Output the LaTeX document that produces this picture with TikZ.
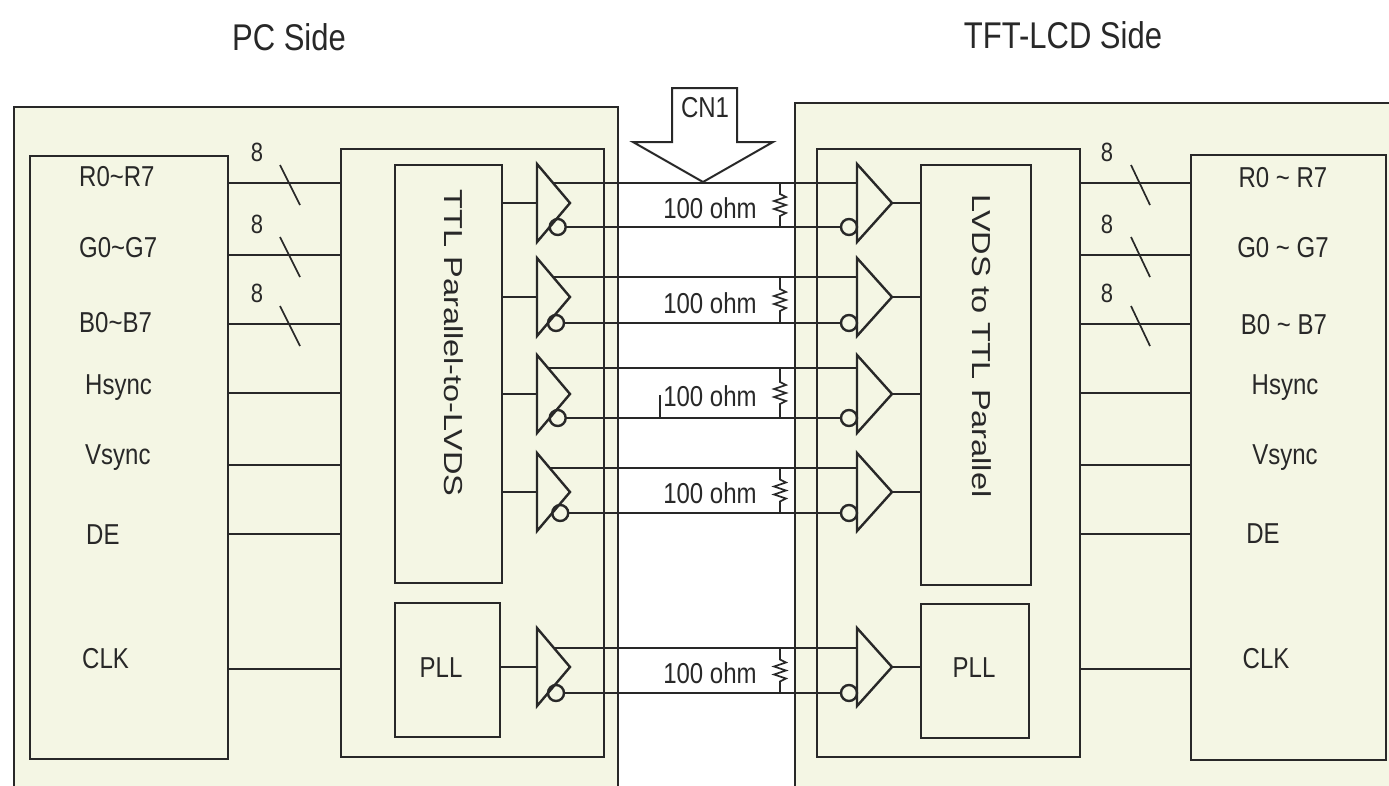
\documentclass[tikz,border=0pt]{standalone}
\usepackage{fontspec}
\usepackage{graphicx}
\setmainfont{Liberation Sans}
\usetikzlibrary{calc}
\definecolor{cream}{RGB}{244,246,228}
\definecolor{ink}{RGB}{40,40,40}
\newcommand{\vs}[1]{\scalebox{1}[1.2]{#1}}
\newcommand{\rlen}[1]{\scalebox{1.25}[1]{#1}}
\begin{document}
\begin{tikzpicture}[x=1pt,y=-1pt,
  box/.style={draw=ink,line width=2.7pt,fill=cream,inner sep=0pt,outer sep=0pt,anchor=north west},
  wire/.style={draw=ink,line width=2.4pt},
  thin/.style={draw=ink,line width=1.7pt},
  lbl/.style={text=ink,font=\fontsize{24}{28}\selectfont,inner sep=0pt},
  small/.style={text=ink,font=\fontsize{22}{26}\selectfont,inner sep=0pt},
  ttl/.style={text=ink,font=\fontsize{31}{36}\selectfont,inner sep=0pt},
  vlbl/.style={text=ink,font=\fontsize{26}{30}\selectfont,inner sep=0pt,rotate=-90}]
\useasboundingbox (0,0) rectangle (1389,785);
\fill[white] (0,0) rectangle (1389,785);
\begin{scope}
\clip (0,0) rectangle (1389,785);
\node[box, minimum width=604pt, minimum height=720pt] (pcside) at (14,107) {};
\node[box, minimum width=640pt, minimum height=720pt] (lcdside) at (795,103) {};
\end{scope}
% titles
\node[ttl] (tpc) at (289,37) {\vs{PC Side}};
\node[ttl] (tlcd) at (1063,35) {\vs{TFT-LCD Side}};
% inner boxes
\node[box, minimum width=198pt, minimum height=603pt] (src) at (30,156) {};
\node[box, minimum width=263pt, minimum height=608pt] (tx) at (341,149) {};
\node[box, minimum width=107pt, minimum height=418pt] (ttlb) at (395,165) {};
\node[box, minimum width=105pt, minimum height=134pt] (pllL) at (395,603) {};
\node[box, minimum width=263pt, minimum height=608pt] (rx) at (817,149) {};
\node[box, minimum width=110pt, minimum height=420pt] (lvds) at (921,165) {};
\node[box, minimum width=108pt, minimum height=134pt] (pllR) at (921,604) {};
\node[box, minimum width=195pt, minimum height=605pt] (dst) at (1191,155) {};
% box texts
\node[vlbl] (tttl) at (454,343) {\rlen{TTL Parallel-to-LVDS}};
\node[vlbl] (tlvds) at (982,346) {\rlen{LVDS to TTL Parallel}};
\node[lbl] (tpllL) at (441,668) {\vs{PLL}};
\node[lbl] (tpllR) at (974,668) {\vs{PLL}};
% left labels
\node[lbl,anchor=west] (lR) at (79,177) {\vs{R0\textasciitilde R7}};
\node[lbl,anchor=west] (lG) at (79,248) {\vs{G0\textasciitilde G7}};
\node[lbl,anchor=west] (lB) at (79,323) {\vs{B0\textasciitilde B7}};
\node[lbl,anchor=west] (lH) at (85,388) {\vs{Hsync}};
\node[lbl,anchor=west] (lV) at (85,458) {\vs{Vsync}};
\node[lbl,anchor=west] (lD) at (86,535) {\vs{DE}};
\node[lbl,anchor=west] (lC) at (82,659) {\vs{CLK}};
% right labels
\node[lbl] (rR) at (1283,178) {\vs{R0 \textasciitilde{} R7}};
\node[lbl] (rG) at (1283,248) {\vs{G0 \textasciitilde{} G7}};
\node[lbl] (rB) at (1284,325) {\vs{B0 \textasciitilde{} B7}};
\node[lbl] (rH) at (1285,388) {\vs{Hsync}};
\node[lbl] (rV) at (1285,458) {\vs{Vsync}};
\node[lbl] (rD) at (1263,534) {\vs{DE}};
\node[lbl] (rC) at (1266,659) {\vs{CLK}};
% parallel signal wires
\foreach \y in {183,255,324,393,465,534,669} {
  \draw[wire] (src.east |- 0,\y) -- (tx.west |- 0,\y);
  \draw[wire] (rx.east |- 0,\y) -- (dst.west |- 0,\y);
}
% bus width marks
\foreach \y/\n in {183/a,255/b,324/c} {
  \draw[thin] (280,\y-18) -- (300,\y+22);
  \node[small] (bl\n) at (257,\y-31) {\vs{8}};
  \draw[thin] (1131,\y-18) -- (1150,\y+22);
  \node[small] (br\n) at (1107,\y-31) {\vs{8}};
}
% CN1 arrow
\draw[ink,line width=2pt,fill=white] (672,88) -- (737,88) -- (737,142) -- (773,142) -- (703,182) -- (633,142) -- (672,142) -- cycle;
\node[lbl] (cn) at (705,108) {\vs{CN1}};
% LVDS channels
\foreach \c/\u/\l [count=\i] in {203/183/227, 297/277/323, 394/368/418, 492/468/513, 667/648/693} {
  \pgfmathsetmacro\xu{537+33*(\u-\c+39)/39}
  \pgfmathsetmacro\xl{570-33*(\l-\c)/39}
  \pgfmathsetmacro\m{(\u+\l)/2}
  % driver
  \draw[wire] (537,\c-39) -- (570,\c) -- (537,\c+39) -- cycle;
  \draw[wire] (\xl+8,\l) circle[radius=8pt];
  % receiver
  \draw[wire] (857,\c-39) -- (892,\c) -- (857,\c+39) -- cycle;
  \draw[wire] (849,\l) circle[radius=8pt];
  % pair
  \draw[wire] (\xu,\u) -- (857,\u);
  \draw[wire] (\xl+16,\l) -- (841,\l);
  % resistor
  \draw[thin] (780,\u) -- (780,\m-11) -- (786,\m-8) -- (774,\m-4) -- (786,\m) -- (774,\m+4) -- (786,\m+8) -- (780,\m+11) -- (780,\l);
  \node[lbl] (ohm\i) at (710,\m+3) {\vs{100 ohm}};
}
% driver inputs and receiver outputs
\foreach \c in {203,297,394,492} {
  \draw[wire] (ttlb.east |- 0,\c) -- (537,\c);
  \draw[wire] (892,\c) -- (lvds.west |- 0,\c);
}
\draw[wire] (pllL.east |- 0,667) -- (537,667);
\draw[wire] (892,667) -- (pllR.west |- 0,667);
% stray mark
\draw[thin] (660,395) -- (660,418);
\end{tikzpicture}
\end{document}
